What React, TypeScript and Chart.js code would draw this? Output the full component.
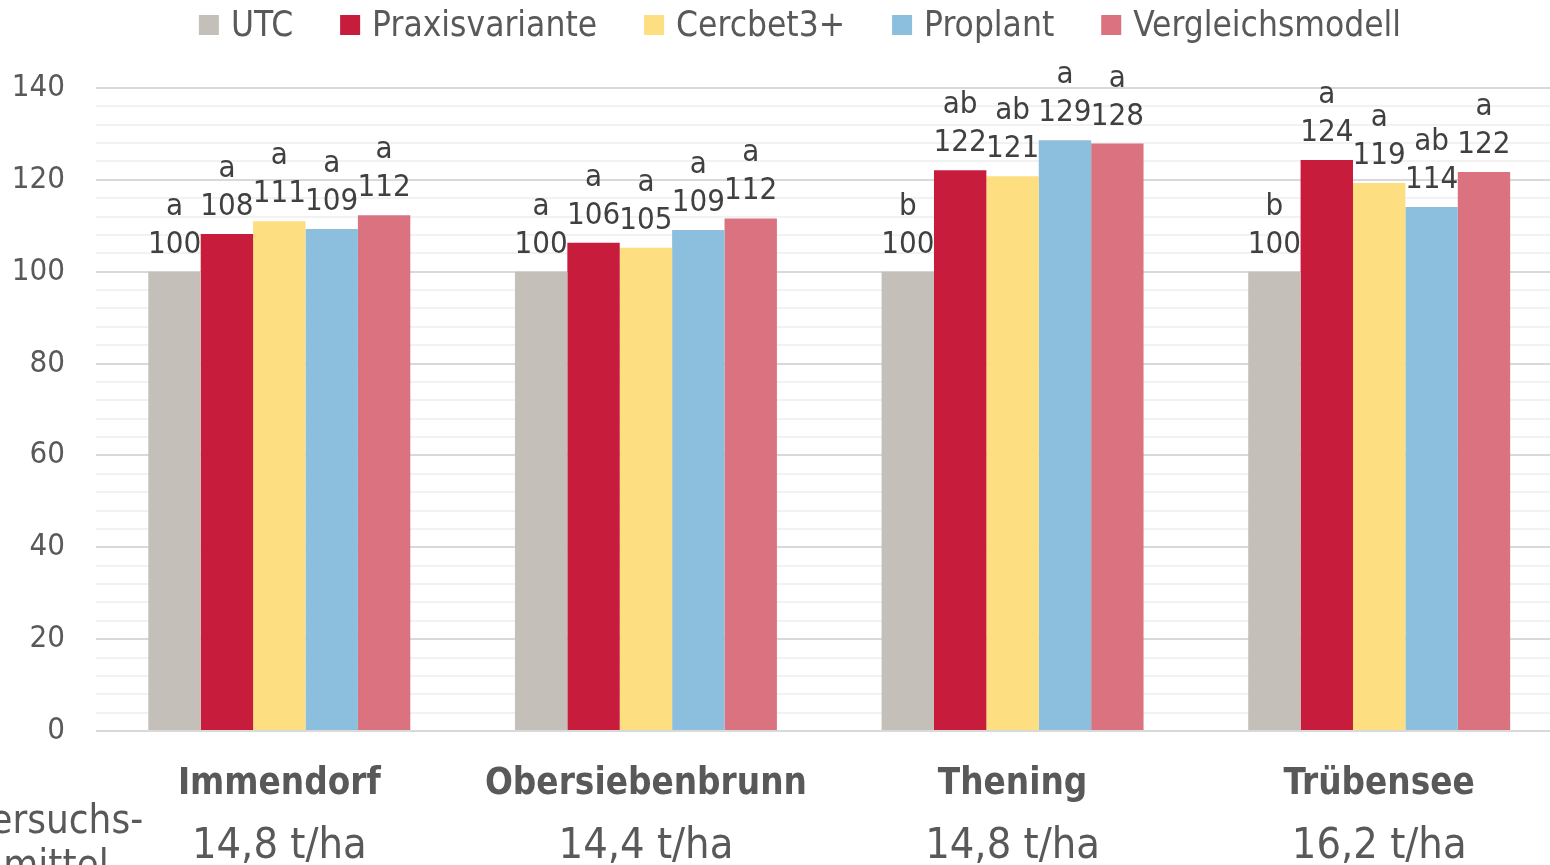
import React, { useEffect, useRef } from "react";
import { Chart, registerables } from "chart.js";

Chart.register(...registerables);

const categories = ["Immendorf", "Obersiebenbrunn", "Thening", "Trübensee"];
const yieldLabels = ["14,8 t/ha", "14,4 t/ha", "14,8 t/ha", "16,2 t/ha"];
const sideLabel = ["Versuchs-", "mittel"];

const seriesNames = ["UTC", "Praxisvariante", "Cercbet3+", "Proplant", "Vergleichsmodell"];
const seriesColors = ["#C4BFB8", "#C81C3C", "#FDDE80", "#8CBEDE", "#DA737F"];

const utcValues = [100, 100, 100, 100];
const praxisValues = [108.2, 106.3, 122.1, 124.3];
const cercbetValues = [111.0, 105.2, 120.8, 119.3];
const proplantValues = [109.3, 109.1, 128.6, 114.1];
const vergleichValues = [112.3, 111.6, 127.9, 121.7];

const utcLetters = ["a", "a", "b", "b"];
const praxisLetters = ["a", "a", "ab", "a"];
const cercbetLetters = ["a", "a", "ab", "a"];
const proplantLetters = ["a", "a", "a", "ab"];
const vergleichLetters = ["a", "a", "a", "a"];

const yMin = 0;
const yMax = 140;
const yGridStep = 4;
const yLabelStep = 20;

const seriesValues = [utcValues, praxisValues, cercbetValues, proplantValues, vergleichValues];
const seriesLetters = [utcLetters, praxisLetters, cercbetLetters, proplantLetters, vergleichLetters];

const FONT = "'DejaVu Sans Condensed', 'DejaVu Sans', sans-serif";
const AXIS_COLOR = "#595959";
const LABEL_COLOR = "#404040";

const overlayPlugin = {
  id: "overlay",
  afterDatasetsDraw(chart: any) {
    const ctx = chart.ctx as CanvasRenderingContext2D;
    const area = chart.chartArea;
    ctx.save();

    // data labels (value + significance letter)
    ctx.fillStyle = LABEL_COLOR;
    ctx.font = `31px ${FONT}`;
    ctx.textAlign = "center";
    ctx.textBaseline = "alphabetic";
    chart.data.datasets.forEach((ds: any, i: number) => {
      const meta = chart.getDatasetMeta(i);
      meta.data.forEach((bar: any, j: number) => {
        const v = ds.data[j] as number;
        const base = bar.y - 19;
        ctx.fillText(String(Math.round(v)), bar.x, base);
        ctx.fillText(seriesLetters[i][j], bar.x, base - 38);
      });
    });

    // category labels
    const xs = chart.scales.x;
    ctx.fillStyle = AXIS_COLOR;
    categories.forEach((c, i) => {
      const cx = xs.getPixelForValue(i);
      ctx.font = `bold 36.5px ${FONT}`;
      ctx.fillText(c, cx, area.bottom + 63);
      ctx.font = `43px ${FONT}`;
      ctx.fillText(yieldLabels[i], cx, area.bottom + 127);
    });

    // side label
    ctx.font = `40px ${FONT}`;
    ctx.fillText(sideLabel[0], 56, area.bottom + 102);
    ctx.fillText(sideLabel[1], 56, area.bottom + 147);

    // legend
    ctx.font = `35px ${FONT}`;
    ctx.textAlign = "left";
    const box = 20;
    const boxGap = 12;
    const itemGap = 47;
    const widths = seriesNames.map((n) => ctx.measureText(n).width);
    const total =
      widths.reduce((a, w) => a + box + boxGap + w, 0) + itemGap * (seriesNames.length - 1);
    let x = 800 - total / 2;
    seriesNames.forEach((n, i) => {
      ctx.fillStyle = seriesColors[i];
      ctx.fillRect(x, 15, box, box);
      ctx.fillStyle = AXIS_COLOR;
      ctx.fillText(n, x + box + boxGap, 36);
      x += box + boxGap + widths[i] + itemGap;
    });

    ctx.restore();
  },
};

export default function App() {
  const ref = useRef<HTMLCanvasElement | null>(null);

  useEffect(() => {
    if (!ref.current) return;
    const chart = new Chart(ref.current, {
      type: "bar",
      data: {
        labels: categories,
        datasets: seriesNames.map((name, i) => ({
          label: name,
          data: seriesValues[i],
          backgroundColor: seriesColors[i],
          borderWidth: 0,
          categoryPercentage: 0.7145,
          barPercentage: 1,
        })),
      },
      options: {
        responsive: false,
        animation: false,
        devicePixelRatio: 1,
        layout: { padding: { left: 0, top: 88, right: 3.5, bottom: 134 } },
        plugins: {
          legend: { display: false },
          tooltip: { enabled: false },
        },
        scales: {
          x: {
            display: false,
          },
          y: {
            min: yMin,
            max: yMax,
            afterFit: (s: any) => {
              s.width = 96;
            },
            border: { display: false },
            grid: {
              drawTicks: false,
              lineWidth: 2,
              color: (c: any) =>
                c.tick && c.tick.value % yLabelStep === 0 ? "#D9D9D9" : "#F2F2F2",
            },
            ticks: {
              stepSize: yGridStep,
              autoSkip: false,
              padding: 31,
              color: AXIS_COLOR,
              font: { family: FONT, size: 31 },
              callback: (v: any) => (Number(v) % yLabelStep === 0 ? String(v) : ""),
            },
          },
        },
      },
      plugins: [overlayPlugin],
    });
    return () => chart.destroy();
  }, []);

  return (
    <div
      style={{
        position: "fixed",
        left: 0,
        top: 0,
        width: 1550,
        height: 865,
        overflow: "hidden",
        background: "#ffffff",
      }}
    >
      <canvas ref={ref} width={1566} height={865} style={{ display: "block" }} />
    </div>
  );
}
